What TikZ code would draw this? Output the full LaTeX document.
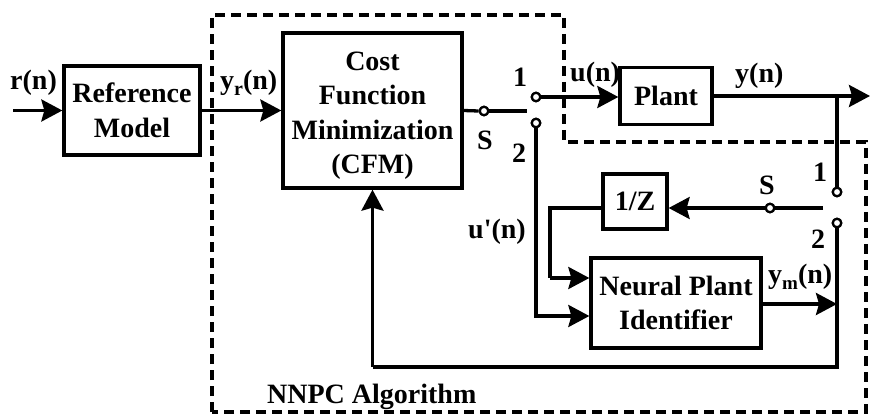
\documentclass[tikz,border=0pt]{standalone}
\usepackage{fontspec}
\setmainfont{Liberation Serif}
\usetikzlibrary{arrows.meta}
% lowered, smaller subscript letter in bold text
\newcommand{\lowsub}[2]{\raisebox{-6pt}{\fontsize{#2}{#2}\selectfont #1}}

\begin{document}
\begin{tikzpicture}[x=1pt,y=-1pt,
  every node/.style={font=\fontsize{28}{34.5}\selectfont\bfseries, inner sep=0pt},
  blk/.style={draw, line width=3.3pt, align=center},
  wire/.style={line width=3.3pt},
  arr/.style={wire, -{Stealth[length=21pt,width=22pt,inset=3pt]}},
  frame/.style={line width=3.3pt, dash pattern=on 10pt off 6pt},
  term/.style={circle, draw, fill=white, line width=2.2pt, minimum size=8.5pt, inner sep=0pt},
  lbl/.style={anchor=base west},
  num/.style={anchor=base}]
\useasboundingbox (0,0) rectangle (870,414);

% NNPC algorithm boundary
\draw[frame] (212,412) -- (212,15) -- (564,15) -- (564,142) -- (866,142) -- (866,412) -- cycle;

% blocks
\node[blk, minimum width=136pt, minimum height=89pt] (ref) at (132,110.5) {Reference\\Model};
\node[blk, minimum width=179pt, minimum height=155pt] (cfm) at (372.5,110.5) {\rule{0pt}{29pt}Cost\\Function\\Minimization\\(CFM)};
\node[blk, minimum width=92pt, minimum height=57pt] (plant) at (666,96) {Plant};
\node[blk, minimum width=64pt, minimum height=55pt] (delay) at (635,201.5) {1/Z};
\node[blk, minimum width=170pt, minimum height=90pt] (npi) at (676,303) {Neural Plant\\Identifier};

% points of the wiring
\coordinate (in) at (13,110.5);
\coordinate (out) at (870,96);
\coordinate (tap) at (837,96);
\coordinate (blade1) at (527,111);
\coordinate (blade2) at (823,208);
\coordinate (ymend) at (837,304);
\coordinate (fbr) at (837,367);
\coordinate (fbl) at (372.5,367);
\coordinate (zl) at (550,208);
\coordinate (zd) at (550,278);
\coordinate (ud) at (538,316);

% switch terminals
\node[term] (s1) at (484,111) {};
\node[term] (t1a) at (536,97) {};
\node[term] (t1b) at (536,123) {};
\node[term] (s2) at (770,208) {};
\node[term] (t2a) at (837,192) {};
\node[term] (t2b) at (837,223) {};

% forward path
\draw[arr] (in) -- (ref.west);
\draw[arr] (ref.east) -- (cfm.west);
\draw[wire] (cfm.east) -- (s1.west);
\draw[wire] (s1.east) -- (blade1);
\draw[arr] (t1a.east) -- (t1a.east -| plant.west);
\draw[arr] (plant.east) -- (out);

% measured output to second switch
\draw[wire] (tap) -- (t2a.north);
\draw[wire] (blade2) -- (s2.east);
\draw[arr] (s2.west) -- (s2.west -| delay.east);
\draw[wire] (delay.west |- zl) -- (zl) -- (zd);
\draw[arr] (zd) -- (zd -| npi.west);

% control input to identifier
\draw[wire] (t1b.south) -- (t1b.south |- ud) -- (ud);
\draw[arr] (ud) -- (ud -| npi.west);

% identifier output and feedback to CFM
\draw[arr] (npi.east |- ymend) -- (ymend);
\draw[wire] (t2b.south) -- (fbr) -- (fbl);
\draw[arr] (fbl) -- (cfm.south);

% redraw terminals on top
\node[term] at (s1) {};
\node[term] at (t1a) {};
\node[term] at (t1b) {};
\node[term] at (s2) {};
\node[term] at (t2a) {};
\node[term] at (t2b) {};

% signal labels
\node[lbl] (lr) at (10,90) {r(n)};
\node[lbl] (lyr) at (220,90) {y\lowsub{r}{20}(n)};
\node[lbl] (lu) at (570,82) {u(n)};
\node[lbl] (ly) at (735,83) {y(n)};
\node[lbl] (lup) at (468,238) {u\textquotesingle(n)};
\node[lbl] (lym) at (768,283) {y\lowsub{m}{19}(n)};
\node[lbl] (lalg) at (267,403) {NNPC Algorithm};

% switch labels
\node[num] (n1a) at (520,87) {1};
\node[num] (nsa) at (485,150) {S};
\node[num] (n2a) at (519,163) {2};
\node[num] (n1b) at (820,182) {1};
\node[num] (nsb) at (767,195) {S};
\node[num] (n2b) at (818,248) {2};
\end{tikzpicture}
\end{document}
